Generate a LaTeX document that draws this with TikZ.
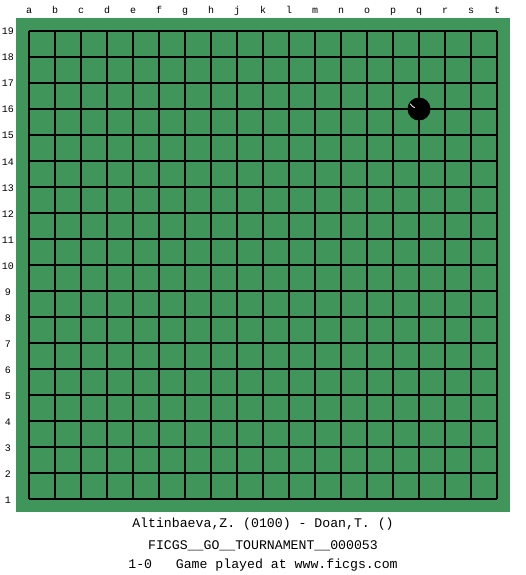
\documentclass[tikz,border=0pt]{standalone}
\usepackage{fontspec}
\setmonofont{Liberation Mono}
\definecolor{board}{RGB}{64,149,91}
\begin{document}
\begin{tikzpicture}[x=1pt,y=-1pt,
  coordlabel/.style={font=\ttfamily\fontsize{10}{10}\selectfont,inner sep=0pt,anchor=base},
  caption/.style={font=\ttfamily\fontsize{13.2}{14}\selectfont,inner sep=0pt,anchor=base},
  gridline/.style={line width=1.4pt,black}]
\useasboundingbox (0,0) rectangle (525,575);
\fill[white] (0,0) rectangle (525,575);
\fill[board] (16,18) rectangle (510,512);
\foreach \i in {0,...,18} {
  \draw[gridline] (29+26*\i,31) -- (29+26*\i,499);
  \draw[gridline] (29,31+26*\i) -- (497,31+26*\i);
}
\foreach \l [count=\i from 0] in {a,b,c,d,e,f,g,h,j,k,l,m,n,o,p,q,r,s,t} {
  \node[coordlabel] (col\l) at (29+26*\i,14) {\l};
}
\foreach \r in {1,...,19} {
  \node[coordlabel] (row\r) at (8,35+26*19-26*\r) {\r};
}
\fill[black] (419,109) circle (11.5);
\draw[white,line width=0.8pt,line cap=round] (410.5,104) arc (150:115:9);
\node[caption] (players) at (263,527) {Altinbaeva,Z. (0100) - Doan,T. ()};
\node[caption] (event) at (263,549) {FICGS\_\_GO\_\_TOURNAMENT\_\_000053};
\node[caption] (result) at (263,568) {1-0\ \ \ Game played at www.ficgs.com};
\end{tikzpicture}
\end{document}
